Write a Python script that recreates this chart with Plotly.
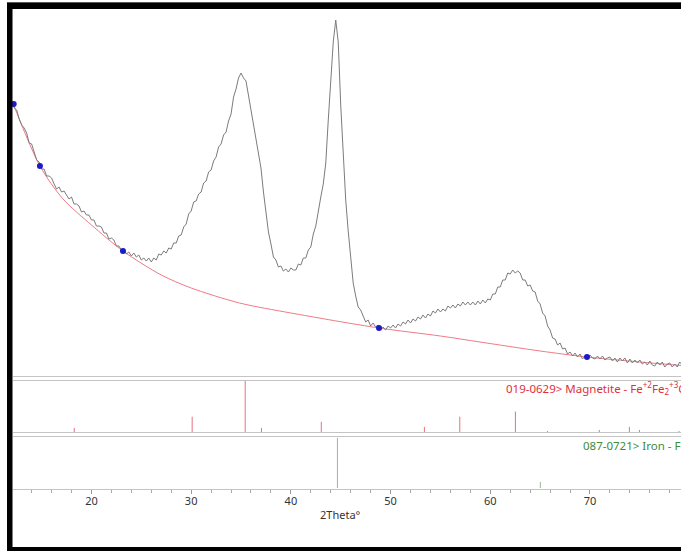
import plotly.graph_objects as go

# ---------------- data ----------------
two_theta = [
    12.0, 12.25, 12.5, 12.75, 13.0, 13.25, 13.5, 13.75, 14.0, 14.25, 14.5, 14.75,
    15.0, 15.25, 15.5, 15.75, 16.0, 16.25, 16.5, 16.75, 17.0, 17.25, 17.5, 17.75,
    18.0, 18.25, 18.5, 18.75, 19.0, 19.25, 19.5, 19.75, 20.0, 20.25, 20.5, 20.75,
    21.0, 21.25, 21.5, 21.75, 22.0, 22.25, 22.5, 22.75, 23.0, 23.25, 23.5, 23.75,
    24.0, 24.25, 24.5, 24.75, 25.0, 25.25, 25.5, 25.75, 26.0, 26.25, 26.5, 26.75,
    27.0, 27.25, 27.5, 27.75, 28.0, 28.25, 28.5, 28.75, 29.0, 29.25, 29.5, 29.75,
    30.0, 30.25, 30.5, 30.75, 31.0, 31.25, 31.5, 31.75, 32.0, 32.25, 32.5, 32.75,
    33.0, 33.25, 33.5, 33.75, 34.0, 34.25, 34.5, 34.75, 35.0, 35.25, 35.5, 35.75,
    36.0, 36.25, 36.5, 36.75, 37.0, 37.25, 37.5, 37.75, 38.0, 38.25, 38.5, 38.75,
    39.0, 39.25, 39.5, 39.75, 40.0, 40.25, 40.5, 40.75, 41.0, 41.25, 41.5, 41.75,
    42.0, 42.25, 42.5, 42.75, 43.0, 43.25, 43.5, 43.75, 44.0, 44.25, 44.5, 44.75,
    45.0, 45.25, 45.5, 45.75, 46.0, 46.25, 46.5, 46.75, 47.0, 47.25, 47.5, 47.75,
    48.0, 48.25, 48.5, 48.75, 49.0, 49.25, 49.5, 49.75, 50.0, 50.25, 50.5, 50.75,
    51.0, 51.25, 51.5, 51.75, 52.0, 52.25, 52.5, 52.75, 53.0, 53.25, 53.5, 53.75,
    54.0, 54.25, 54.5, 54.75, 55.0, 55.25, 55.5, 55.75, 56.0, 56.25, 56.5, 56.75,
    57.0, 57.25, 57.5, 57.75, 58.0, 58.25, 58.5, 58.75, 59.0, 59.25, 59.5, 59.75,
    60.0, 60.25, 60.5, 60.75, 61.0, 61.25, 61.5, 61.75, 62.0, 62.25, 62.5, 62.75,
    63.0, 63.25, 63.5, 63.75, 64.0, 64.25, 64.5, 64.75, 65.0, 65.25, 65.5, 65.75,
    66.0, 66.25, 66.5, 66.75, 67.0, 67.25, 67.5, 67.75, 68.0, 68.25, 68.5, 68.75,
    69.0, 69.25, 69.5, 69.75, 70.0, 70.25, 70.5, 70.75, 71.0, 71.25, 71.5, 71.75,
    72.0, 72.25, 72.5, 72.75, 73.0, 73.25, 73.5, 73.75, 74.0, 74.25, 74.5, 74.75,
    75.0, 75.25, 75.5, 75.75, 76.0, 76.25, 76.5, 76.75, 77.0, 77.25, 77.5, 77.75,
    78.0, 78.25, 78.5, 78.75, 79.0, 79.25, 79.5, 79.75,
]
counts = [
    277, 268, 266, 257, 251, 248, 243, 233, 232, 224, 216, 214,
    207, 207, 200, 200, 198, 192, 187, 189, 184, 185, 181, 177,
    179, 172, 172, 170, 164, 165, 161, 161, 156, 156, 150, 150,
    149, 143, 143, 137, 138, 136, 130, 130, 126, 127, 122, 124,
    120, 123, 119, 121, 116, 118, 115, 118, 114, 118, 116, 122,
    121, 125, 123, 128, 127, 133, 133, 140, 141, 149, 152, 162,
    165, 174, 175, 182, 184, 193, 195, 204, 206, 215, 219, 229,
    232, 241, 244, 255, 262, 279, 287, 298, 303, 298, 295, 280,
    268, 249, 237, 219, 208, 184, 166, 144, 132, 119, 116, 109,
    110, 105, 107, 104, 108, 106, 106, 112, 111, 118, 118, 126,
    129, 142, 150, 166, 179, 192, 213, 256, 301, 334, 356, 334,
    271, 216, 176, 145, 119, 93, 80, 69, 66, 59, 54, 56,
    50, 53, 49, 51, 46, 49, 46, 50, 48, 51, 48, 52,
    50, 54, 52, 56, 53, 57, 55, 59, 57, 61, 58, 62,
    60, 65, 63, 67, 64, 67, 65, 70, 68, 71, 68, 72,
    70, 74, 71, 74, 71, 74, 71, 75, 72, 76, 73, 77,
    76, 82, 82, 89, 89, 96, 96, 103, 102, 106, 103, 105,
    103, 96, 96, 90, 91, 85, 84, 75, 72, 63, 60, 50,
    46, 38, 37, 31, 33, 27, 28, 22, 24, 20, 23, 19,
    22, 17, 20, 17, 21, 18, 17, 20, 17, 20, 16, 18,
    19, 15, 18, 14, 18, 15, 18, 13, 17, 13, 16, 13,
    16, 12, 14, 11, 15, 11, 10, 14, 11, 14, 9, 12,
    13, 9, 12, 9, 14, 11, 13, 10,
]
assert len(two_theta) == len(counts)

# background curve (red)
bg_theta = [12.0, 14.83, 17.15, 20.0, 23.16, 27.0, 30.0, 34.85, 40.0,
            48.84, 55.0, 58.96, 65.0, 69.7, 75.0, 79.8]
bg_counts = [276, 210, 177, 151, 125, 101, 88, 73, 63,
             48, 40, 34, 25, 19, 14, 10]

# background anchor points (blue dots)
anchor_theta = [12.2, 14.83, 23.16, 48.84, 69.7]
anchor_counts = [272, 210, 125, 48, 19]

# reference patterns (stick lines)
mag_theta = [18.27, 30.10, 35.42, 37.05, 43.05, 53.39, 56.94, 62.52, 65.74, 70.93, 73.95, 74.96, 78.93]
mag_int = [8, 30, 100, 8, 20, 10, 30, 40, 2, 4, 10, 4, 2]
fe_theta = [44.67, 65.02, 82.33]
fe_int = [100, 12, 30]

mag_label = "019-0629> Magnetite - Fe<sup>+2</sup>Fe<sub>2</sub><sup>+3</sup>O<sub>4</sub>"
fe_label = "087-0721> Iron - Fe"
x_title = "2Theta°"
tick_vals = [20, 30, 40, 50, 60, 70]

# ---------------- layout helpers ----------------
W, H = 681, 552
def px(x):
    return x / W
def py(y):
    return 1 - y / H

def sticks(th, it):
    xs, ys = [], []
    for t, i in zip(th, it):
        xs += [t, t, None]
        ys += [0, i, None]
    return xs, ys

FONT = "Noto Sans"

fig = go.Figure()

fig.add_trace(go.Scatter(x=bg_theta, y=bg_counts, mode="lines",
                         line=dict(color="#f07a86", width=1, shape="spline", smoothing=0.8),
                         xaxis="x", yaxis="y", hoverinfo="skip"))
fig.add_trace(go.Scatter(x=two_theta, y=counts, mode="lines",
                         line=dict(color="#7c7c7c", width=1),
                         xaxis="x", yaxis="y"))
fig.add_trace(go.Scatter(x=anchor_theta, y=anchor_counts, mode="markers",
                         marker=dict(color="#1a1ac8", size=6),
                         xaxis="x", yaxis="y", cliponaxis=False))

mx, my = sticks(mag_theta, mag_int)
fig.add_trace(go.Scatter(x=mx, y=my, mode="lines",
                         line=dict(color="#e8707e", width=1),
                         xaxis="x", yaxis="y2"))
fx, fy = sticks(fe_theta, fe_int)
fig.add_trace(go.Scatter(x=fx, y=fy, mode="lines",
                         line=dict(color="#9cb49c", width=1),
                         xaxis="x", yaxis="y3"))

x_left = 12.0 + (13 - 11.7) / 9.97
x_right = 20 + (681 - 91.5) / 9.97

shapes = []
# separator double lines
for yy in [376.5, 380.5, 432.5, 436.5]:
    shapes.append(dict(type="line", xref="paper", yref="paper",
                       x0=px(13), x1=1.0, y0=py(yy), y1=py(yy),
                       line=dict(color="#c4c4c4", width=1), layer="above"))
# black frame
shapes.append(dict(type="rect", xref="paper", yref="paper",
                   x0=px(7), x1=px(12.5), y0=py(551), y1=py(3),
                   fillcolor="#000", line=dict(width=0), layer="above"))
shapes.append(dict(type="rect", xref="paper", yref="paper",
                   x0=px(7), x1=1.0, y0=py(9), y1=py(3),
                   fillcolor="#000", line=dict(width=0), layer="above"))
shapes.append(dict(type="line", xref="paper", yref="paper",
                   x0=px(7), x1=1.0, y0=py(2.5), y1=py(2.5),
                   line=dict(color="#555", width=1), layer="above"))
shapes.append(dict(type="rect", xref="paper", yref="paper",
                   x0=px(7), x1=1.0, y0=py(551), y1=py(547),
                   fillcolor="#000", line=dict(width=0), layer="above"))

annotations = [
    dict(text=mag_label, xref="paper", yref="paper", x=px(504), y=py(388),
         xanchor="left", yanchor="middle", showarrow=False,
         font=dict(family=FONT, size=11.5, color="#e0303c")),
    dict(text=fe_label, xref="paper", yref="paper", x=px(581), y=py(445),
         xanchor="left", yanchor="middle", showarrow=False,
         font=dict(family=FONT, size=11.5, color="#3c8c3c")),
    dict(text=x_title, xref="paper", yref="paper", x=px(340), y=py(514),
         xanchor="center", yanchor="middle", showarrow=False,
         font=dict(family=FONT, size=11, color="#333")),
]

fig.update_layout(
    width=W, height=H,
    margin=dict(l=0, r=0, t=0, b=0),
    paper_bgcolor="white", plot_bgcolor="white",
    showlegend=False,
    shapes=shapes,
    annotations=annotations,
    xaxis=dict(domain=[px(13), 1.0], range=[x_left, x_right],
               anchor="free", position=py(488.5),
               showline=True, linecolor="#c4c4c4", linewidth=1,
               ticks="outside", ticklen=4, tickcolor="#999", tickwidth=1,
               tickvals=tick_vals, ticklabelstandoff=-2,
               tickfont=dict(family=FONT, size=11, color="#333"),
               minor=dict(dtick=2, tick0=0, ticks="outside", ticklen=3, tickcolor="#aaa"),
               showgrid=False, zeroline=False),
    yaxis=dict(domain=[py(376), py(9)], range=[0, 367], visible=False,
               showgrid=False, zeroline=False),
    yaxis2=dict(domain=[py(432), py(380)], range=[0, 102], visible=False,
                showgrid=False, zeroline=False),
    yaxis3=dict(domain=[py(488), py(436)], range=[0, 104], visible=False,
                showgrid=False, zeroline=False),
)

fig.write_html("out.html")
